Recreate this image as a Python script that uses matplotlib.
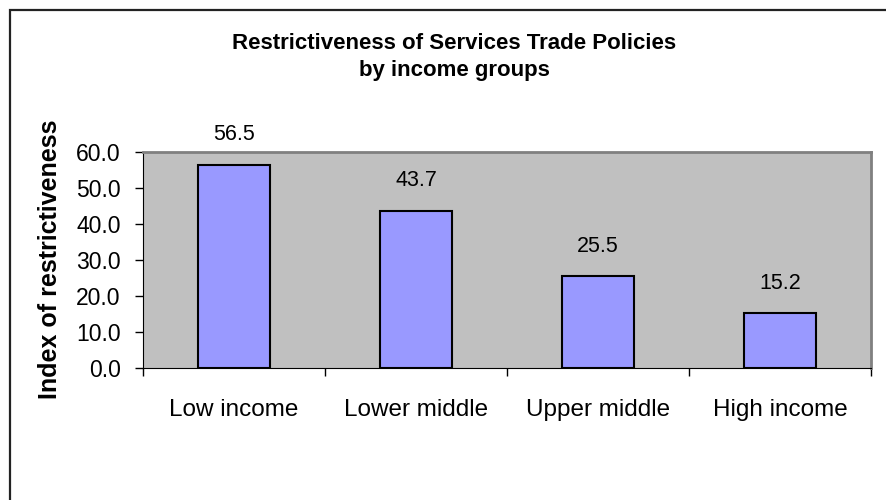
import matplotlib
matplotlib.use("Agg")
import matplotlib.pyplot as plt
import matplotlib.patches as patches
from matplotlib.ticker import FormatStrFormatter, FixedLocator
import numpy as np

groups = ['Low income', 'Lower middle', 'Upper middle', 'High income']
index_values = [56.5, 43.7, 25.5, 15.2]
yticks = [0, 10, 20, 30, 40, 50, 60]

plt.rcParams['font.family'] = ['Liberation Sans', 'DejaVu Sans']


def main():
    fig = plt.figure(figsize=(8.86, 5.0), dpi=100)
    ax = fig.add_axes([143 / 886, 1 - 368 / 500, (871 - 143) / 886, (368 - 152) / 500])

    x = np.arange(len(groups))
    ax.set_facecolor('#C0C0C0')
    ax.bar(x, index_values, width=0.4, color='#9999FF', edgecolor='black', linewidth=1.5, zorder=3)

    for xi, v in zip(x, index_values):
        ax.annotate('%.1f' % v, (xi, v), xytext=(0, 14), textcoords='offset points',
                    ha='center', va='bottom', fontsize=15.5)

    ax.set_xlim(-0.5, len(groups) - 0.5)
    ax.set_ylim(0, 60)
    ax.set_yticks(yticks)
    ax.yaxis.set_major_formatter(FormatStrFormatter('%.1f'))
    ax.tick_params(axis='y', direction='out', length=6, width=1, pad=10, labelsize=16.5)

    ax.set_xticks(x)
    ax.set_xticklabels(groups)
    ax.xaxis.set_minor_locator(FixedLocator(np.arange(-0.5, len(groups), 1.0)))
    ax.tick_params(axis='x', which='major', length=0, pad=22, labelsize=17.5)
    ax.tick_params(axis='x', which='minor', direction='out', length=6, width=1)

    ax.spines['left'].set_color('black')
    ax.spines['bottom'].set_color('black')
    ax.spines['top'].set_color('#808080')
    ax.spines['right'].set_color('#808080')
    ax.spines['top'].set_linewidth(2)
    ax.spines['right'].set_linewidth(2)

    fig.text(454 / 886, 1 - 57 / 500, 'Restrictiveness of Services Trade Policies\nby income groups',
             ha='center', va='center', fontsize=16, fontweight='bold', linespacing=1.4)
    fig.text(50 / 886, 1 - 259 / 500, 'Index of restrictiveness', rotation=90,
             ha='center', va='center', fontsize=18, fontweight='bold')

    # outer chart border (left and top edges visible)
    border = patches.Rectangle((10 / 886, -0.1), 1.2, 1 - 10 / 500 + 0.1, transform=fig.transFigure,
                               fill=False, edgecolor='#222222', linewidth=1.6)
    fig.patches.append(border)

    fig.savefig('out.png', dpi=100)


if __name__ == '__main__':
    main()
